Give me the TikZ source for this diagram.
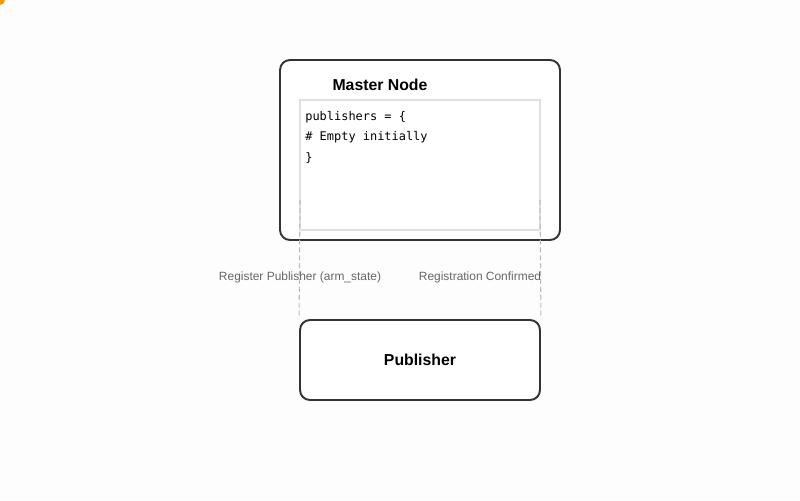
\documentclass[tikz,border=0pt]{standalone}
\usepackage{fontspec}
\setmainfont{Liberation Sans}
\newfontfamily\codefont{DejaVu Sans Mono}
\usetikzlibrary{positioning}
\definecolor{bgwhite}{HTML}{FDFDFD}
\definecolor{boxedge}{HTML}{333333}
\definecolor{inneredge}{HTML}{E0E0E0}
\definecolor{dashgray}{HTML}{BBBBBB}
\definecolor{labelgray}{HTML}{666666}
\definecolor{dotorange}{HTML}{FF9900}

\begin{document}
\begin{tikzpicture}[x=0.02cm,y=-0.02cm]
      \useasboundingbox[fill=bgwhite] (0,0) rectangle (800,500);
      \fill[dotorange] (0,0) circle (5);
      \tikzstyle{box} = [draw=boxedge, line width=1.1pt, rounded corners=0.2cm, fill=white, inner sep=0pt]
      \tikzstyle{title} = [font=\fontsize{9}{11}\selectfont\bfseries, inner sep=0pt]
      \tikzstyle{code} = [font=\codefont\fontsize{6.8}{8}\selectfont, anchor=west, inner sep=0pt]
      \tikzstyle{msg} = [font=\fontsize{6.8}{8}\selectfont, text=labelgray, inner sep=0pt]
      \tikzstyle{wire} = [draw=dashgray, line width=0.6pt, dash pattern=on 2.8pt off 1.7pt]
      % master node with its table
      \node[box, minimum width=5.6cm, minimum height=3.6cm](master) at (420,150) {};
      \node[title](mtitle) at (380,85) {Master Node};
      \node[draw=inneredge, line width=0.85pt, fill=white, minimum width=4.8cm, minimum height=2.6cm, inner sep=0pt](table) at (420,165) {};
      \node[code](l1) at (305,117.5) {publishers = \{};
      \node[code](l2) at (305,137.5) {\# Empty initially};
      \node[code](l3) at (305,157.5) {\}};
      % publisher
      \node[box, minimum width=4.8cm, minimum height=1.6cm](pub) at (420,360) {};
      \node[title](ptitle) at (pub) {Publisher};
      % messages
      \coordinate(regtop) at (300,200);
      \coordinate(conftop) at (540,200);
      \draw[wire] (regtop) -- (pub.north west);
      \draw[wire] (conftop) -- (pub.north east);
      \node[msg](reg) at (300,277) {Register Publisher (arm\_state)};
      \node[msg](conf) at (480,277) {Registration Confirmed};
\end{tikzpicture}
\end{document}
